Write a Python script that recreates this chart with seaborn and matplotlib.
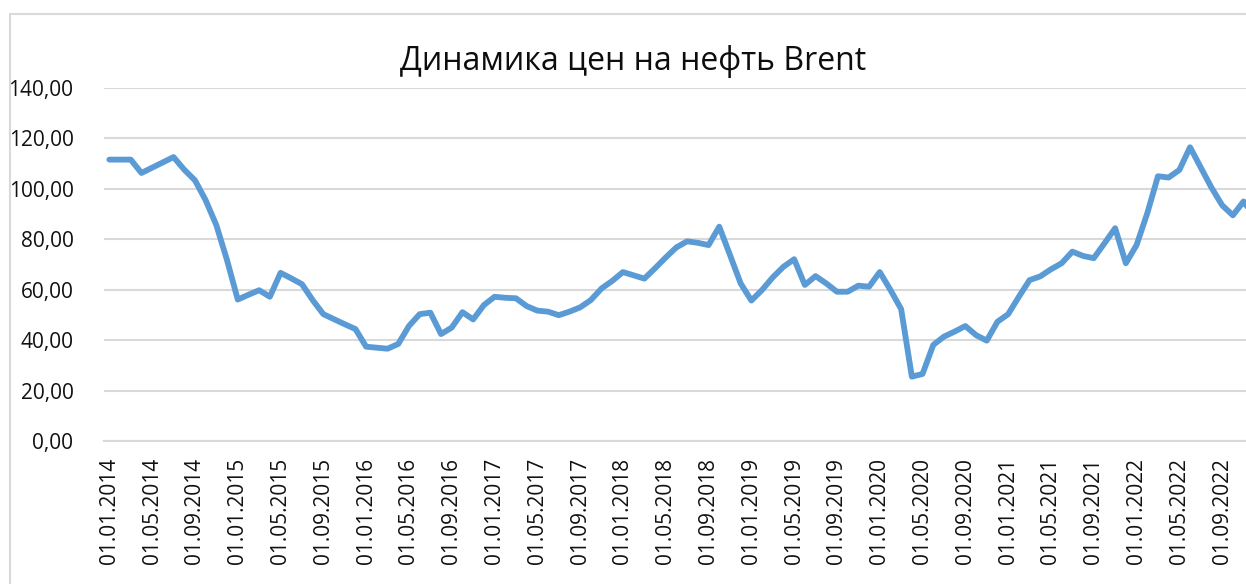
import pandas as pd
import matplotlib.pyplot as plt
import matplotlib.patches as patches
import seaborn as sns
from matplotlib.ticker import FixedLocator, FuncFormatter

# Monthly Brent prices (01.01.2014 onwards)
start_month = '2014-01-01'
prices = [
    111.6, 111.6, 111.6, 106.3, 108.4, 110.5, 112.6, 107.6, 103.4, 95.5, 85.6, 71.7,   # 2014
    56.1, 58.0, 59.8, 57.2, 66.7, 64.5, 62.2, 55.9, 50.3, 48.3, 46.3, 44.4,             # 2015
    37.4, 37.0, 36.6, 38.5, 45.6, 50.3, 50.9, 42.4, 45.0, 51.1, 48.2, 53.9,             # 2016
    57.2, 56.8, 56.6, 53.5, 51.7, 51.3, 49.9, 51.3, 53.0, 55.9, 60.5, 63.5,             # 2017
    67.0, 65.7, 64.4, 68.5, 72.8, 76.8, 79.2, 78.6, 77.7, 85.0, 73.8, 62.5,             # 2018
    55.7, 59.9, 64.9, 69.1, 72.1, 61.9, 65.4, 62.5, 59.2, 59.2, 61.6, 61.2,             # 2019
    67.0, 59.9, 52.3, 25.5, 26.6, 38.1, 41.4, 43.4, 45.6, 42.0, 39.8, 47.3,             # 2020
    50.3, 57.2, 63.8, 65.3, 68.1, 70.5, 75.1, 73.4, 72.5, 78.4, 84.4, 70.5,             # 2021
    77.7, 90.3, 105.0, 104.5, 107.5, 116.5, 108.5, 100.5, 93.5, 89.5, 95.0, 89.0,       # 2022
]
dates = pd.date_range(start_month, periods=len(prices), freq='MS')
date_labels = [d.strftime('%d.%m.%Y') for d in dates]
label_step = 4

df = pd.DataFrame({'month': range(len(prices)), 'price': prices})

sns.set_theme(style='white')
plt.rcParams['font.family'] = ['Open Sans', 'DejaVu Sans']

fig = plt.figure(figsize=(12.46, 5.84), dpi=100)
ax = fig.add_axes([104 / 1246, 143 / 584, 1142 / 1246, 353 / 584])

sns.lineplot(data=df, x='month', y='price', ax=ax, color='#5b9bd5', linewidth=4.2,
             solid_capstyle='round', solid_joinstyle='round', clip_on=True)

# axes
ax.set_ylim(0, 140)
ax.set_xlim(-0.5, 1142 / 10.70 - 0.5)
ax.set_yticks(range(0, 141, 20))
ax.yaxis.set_major_formatter(FuncFormatter(lambda v, p: f'{v:.2f}'.replace('.', ',')))
ax.grid(axis='y', color='#d9d9d9', linewidth=1.5)
ax.set_axisbelow(True)

major = list(range(0, len(prices), label_step))
ax.set_xticks(major)
ax.set_xticklabels([date_labels[i] for i in major], rotation=90, va='top')
ax.xaxis.set_minor_locator(FixedLocator([m - 0.5 for m in major]))
ax.tick_params(axis='x', which='major', length=0, pad=12, labelsize=15, labelcolor='#111111')
ax.tick_params(axis='x', which='minor', length=5, width=1.5, color='#d9d9d9', direction='out')
ax.tick_params(axis='y', length=0, pad=22, labelsize=15, labelcolor='#111111')

for s in ['top', 'right', 'left']:
    ax.spines[s].set_visible(False)
ax.spines['bottom'].set_color('#d9d9d9')
ax.spines['bottom'].set_linewidth(1.5)

ax.set_xlabel('')
ax.set_ylabel('')

fig.text(633 / 1246, 1 - 61 / 584, 'Динамика цен на нефть Brent', ha='center', va='center',
         fontsize=23, color='#0d0d0d')

# chart border
fig.patches.append(patches.Rectangle((10 / 1246, -0.1), 1.2, 0.1 + 1 - 14 / 584,
                                     transform=fig.transFigure, fill=False,
                                     edgecolor='#d9d9d9', linewidth=1.5))

fig.savefig('out.png', dpi=100)
